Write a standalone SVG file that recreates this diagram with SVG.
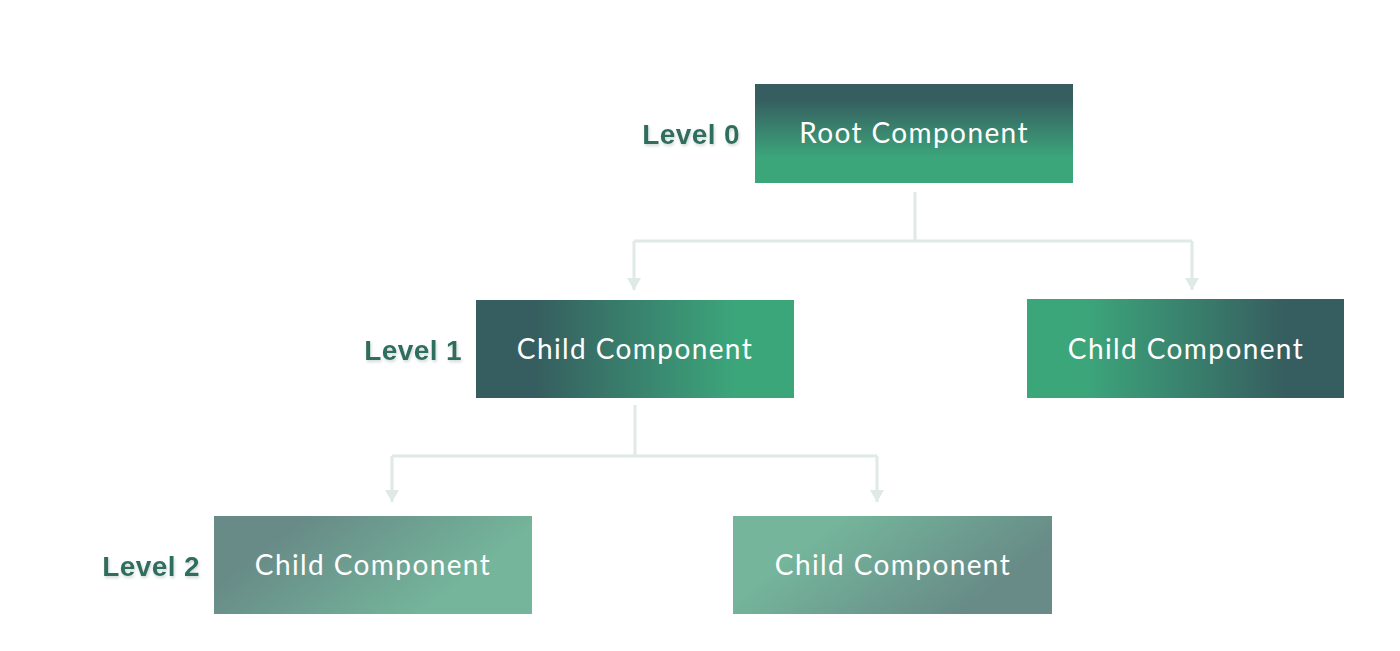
<svg xmlns="http://www.w3.org/2000/svg" width="1400" height="651" viewBox="0 0 1400 651">
<defs>
<linearGradient id="gRoot" x1="0" y1="0" x2="0" y2="1">
<stop offset="0.15" stop-color="#365d5f"/>
<stop offset="0.75" stop-color="#3ca67b"/>
</linearGradient>
<linearGradient id="gL1a" x1="0" y1="0" x2="1" y2="0">
<stop offset="0.18" stop-color="#365d5f"/>
<stop offset="0.82" stop-color="#3ca67b"/>
</linearGradient>
<linearGradient id="gL1b" x1="0" y1="0" x2="1" y2="0">
<stop offset="0.18" stop-color="#3ca67b"/>
<stop offset="0.82" stop-color="#365d5f"/>
</linearGradient>
<linearGradient id="gL2a" x1="0" y1="0.3" x2="1" y2="0.7">
<stop offset="0.15" stop-color="#688b87"/>
<stop offset="0.8" stop-color="#74b59b"/>
</linearGradient>
<linearGradient id="gL2b" x1="0" y1="0.3" x2="1" y2="0.7">
<stop offset="0.2" stop-color="#74b59b"/>
<stop offset="0.85" stop-color="#688b87"/>
</linearGradient>
<marker id="arr" markerWidth="12" markerHeight="14" refX="12" refY="7" orient="auto" markerUnits="userSpaceOnUse" viewBox="0 0 12 14">
<path d="M0,0 L12,7 L0,14 Z" fill="#dfe9e6"/>
</marker>
<filter id="glow" x="-10%" y="-30%" width="120%" height="160%">
<feDropShadow dx="1" dy="2" stdDeviation="1.5" flood-color="#c9d6d2" flood-opacity="0.9"/>
</filter>
</defs>
<style>
.box-text{font-family:Lato,"Noto Sans",sans-serif;font-size:28px;letter-spacing:1.4px;fill:#ffffff;text-anchor:middle}
.lvl{font-family:"Liberation Sans",Arial,sans-serif;font-weight:bold;font-size:28px;letter-spacing:0.4px;fill:#2f6e5e;text-anchor:end}
.conn{fill:none;stroke:#dfe9e6;stroke-width:3}
</style>
<rect width="1400" height="651" fill="#ffffff"/>
<g id="connectors">
<path class="conn" d="M915,192 V241 M634,241 H1192"/>
<path class="conn" d="M634,241 V290" marker-end="url(#arr)"/>
<path class="conn" d="M1192,241 V290" marker-end="url(#arr)"/>
<path class="conn" d="M635,405 V456 M392,456 H877"/>
<path class="conn" d="M392,456 V502" marker-end="url(#arr)"/>
<path class="conn" d="M877,456 V502" marker-end="url(#arr)"/>
</g>
<g id="level0"><text class="lvl" x="740" y="144" filter="url(#glow)">Level 0</text></g>
<g id="level1"><text class="lvl" x="462" y="360" filter="url(#glow)">Level 1</text></g>
<g id="level2"><text class="lvl" x="200" y="576" filter="url(#glow)">Level 2</text></g>
<g id="root">
<rect x="755" y="84" width="318" height="99" fill="url(#gRoot)"/>
<text class="box-text" x="914" y="143">Root Component</text>
</g>
<g id="child1">
<rect x="476" y="300" width="318" height="98" fill="url(#gL1a)"/>
<text class="box-text" x="635" y="359">Child Component</text>
</g>
<g id="child2">
<rect x="1027" y="299" width="317" height="99" fill="url(#gL1b)"/>
<text class="box-text" x="1186" y="359">Child Component</text>
</g>
<g id="child3">
<rect x="214" y="516" width="318" height="98" fill="url(#gL2a)"/>
<text class="box-text" x="373" y="575">Child Component</text>
</g>
<g id="child4">
<rect x="733" y="516" width="319" height="98" fill="url(#gL2b)"/>
<text class="box-text" x="893" y="575">Child Component</text>
</g>
</svg>
